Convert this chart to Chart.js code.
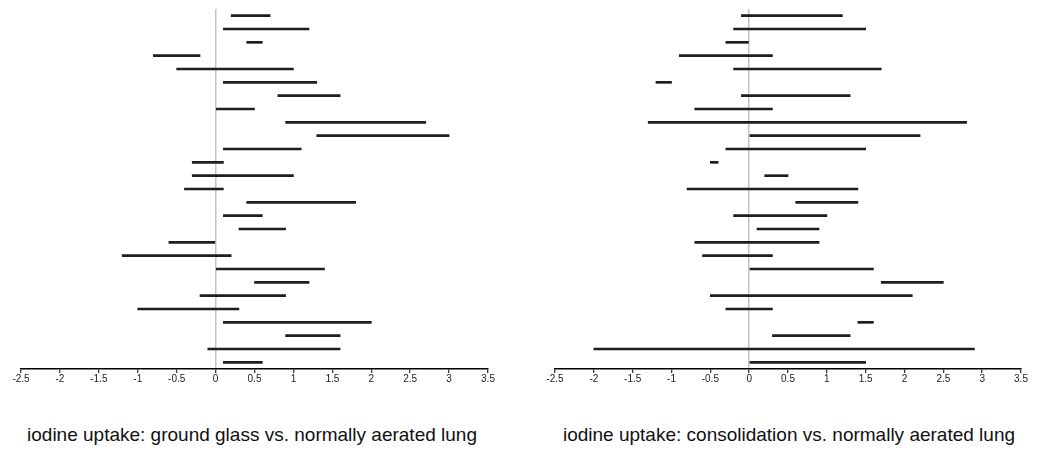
<!DOCTYPE html>
<html>
<head>
<meta charset="utf-8">
<script src="https://cdn.jsdelivr.net/npm/chart.js@4.4.1/dist/chart.umd.min.js"></script>
<style>
  html, body { margin: 0; padding: 0; background: #fff; }
  body { width: 1043px; height: 452px; position: relative; overflow: hidden; }
  .wrap { position: absolute; top: 0; height: 400px; }
  .title { position: absolute; top: 424px; font-family: "Liberation Sans Narrow", "Liberation Sans", Arial, sans-serif; font-size: 19px; color: #111; white-space: nowrap; transform: translateX(-50%); }
</style>
</head>
<body>
<div class="wrap" style="left:0;width:500px;"><canvas id="c1" width="500" height="400"></canvas></div>
<div class="wrap" style="left:530px;width:513px;"><canvas id="c2" width="513" height="400"></canvas></div>
<div class="title" style="left:252px;">iodine uptake: ground glass vs. normally aerated lung</div>
<div class="title" style="left:789px;">iodine uptake: consolidation vs. normally aerated lung</div>
<script>
// Row labels (one per study / patient line, top to bottom)
const rows = ["1","2","3","4","5","6","7","8","9","10","11","12","13","14","15","16","17","18","19","20","21","22","23","24","25","26","27"];

// Ground glass vs. normally aerated lung: interval low / high ends
const ggLow  = [0.2, 0.1, 0.4, -0.8, -0.5, 0.1, 0.8, 0.0, 0.9, 1.3, 0.1, -0.3, -0.3, -0.4, 0.4, 0.1, 0.3, -0.6, -1.2, 0.0, 0.5, -0.2, -1.0, 0.1, 0.9, -0.1, 0.1];
const ggHigh = [0.7, 1.2, 0.6, -0.2, 1.0, 1.3, 1.6, 0.5, 2.7, 3.0, 1.1, 0.1, 1.0, 0.1, 1.8, 0.6, 0.9, 0.0, 0.2, 1.4, 1.2, 0.9, 0.3, 2.0, 1.6, 1.6, 0.6];

// Consolidation vs. normally aerated lung: interval low / high ends
const conLow  = [-0.1, -0.2, -0.3, -0.9, -0.2, -1.2, -0.1, -0.7, -1.3, 0.0, -0.3, -0.5, 0.2, -0.8, 0.6, -0.2, 0.1, -0.7, -0.6, 0.0, 1.7, -0.5, -0.3, 1.4, 0.3, -2.0, 0.0];
const conHigh = [1.2, 1.5, 0.0, 0.3, 1.7, -1.0, 1.3, 0.3, 2.8, 2.2, 1.5, -0.4, 0.5, 1.4, 1.4, 1.0, 0.9, 0.9, 0.3, 1.6, 2.5, 2.1, 0.3, 1.6, 1.3, 2.9, 1.5];

// x-axis range and tick step
const xMin = -2.5, xMax = 3.5, xStep = 0.5;

function makeChart(id, low, high, padL, padR) {
  const data = low.map((v, i) => [v, high[i]]);
  return new Chart(document.getElementById(id), {
    type: 'bar',
    data: {
      labels: rows,
      datasets: [{
        data: data,
        backgroundColor: '#1e1e1e',
        borderWidth: 0,
        barThickness: 2,
        borderSkipped: false
      }]
    },
    options: {
      indexAxis: 'y',
      responsive: false,
      animation: false,
      events: [],
      layout: { padding: { left: padL, right: padR, top: 9, bottom: 11 } },
      plugins: { legend: { display: false }, tooltip: { enabled: false }, title: { display: false } },
      scales: {
        y: { display: false, offset: true },
        x: {
          type: 'linear',
          min: xMin, max: xMax,
          afterFit: (s) => { s.height = 20; },
          border: { display: true, color: '#000', width: 1.5 },
          grid: {
            drawOnChartArea: true,
            color: (ctx) => (ctx.tick && ctx.tick.value === 0) ? '#c4c4c4' : 'rgba(0,0,0,0)',
            lineWidth: 1.5,
            tickColor: '#000',
            tickLength: 4,
            tickWidth: 1
          },
          ticks: {
            stepSize: xStep,
            autoSkip: false,
            maxRotation: 0,
            padding: 0,
            color: '#222',
            font: { family: '"Liberation Sans", Arial, sans-serif', size: 10 },
            callback: (v) => String(Math.round(v * 10) / 10)
          }
        }
      }
    }
  });
}

makeChart('c1', ggLow, ggHigh, 21, 12);
makeChart('c2', conLow, conHigh, 25, 22);
</script>
</body>
</html>
